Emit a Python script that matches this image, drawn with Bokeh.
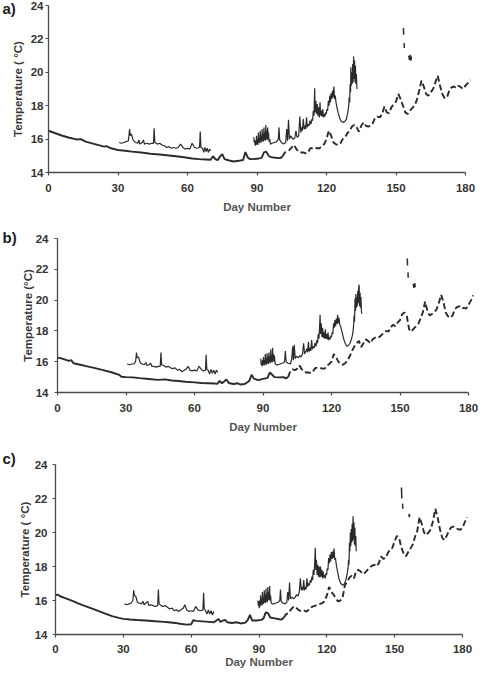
import numpy as np
from bokeh.plotting import figure
from bokeh.layouts import column
from bokeh.models import Range1d, FixedTicker, Label
from bokeh.embed import file_html
from bokeh.resources import INLINE

# ---------------------------------------------------------------------------
# Temperature records (day number, temperature in degC)
# lower_* : long record, continuous until day ~101 then intermittent
# upper_*1 / upper_*2 : second logger, two deployments
# gap_* : short fragments around day 153-157 (NaN = missing)
# ---------------------------------------------------------------------------

lower_a = [(0, 16.5), (3, 16.35), (6, 16.2), (9, 16.08), (12, 15.98), (14, 16.0), (16, 15.85),
           (20, 15.7), (24, 15.55), (25, 15.58), (27, 15.45), (30, 15.35), (33, 15.3), (36, 15.25),
           (40, 15.2), (44, 15.12), (48, 15.08), (52, 15.02), (56, 14.96), (60, 14.88), (62, 14.84),
           (65, 14.8), (68, 14.78), (70, 14.76), (71, 14.98), (72, 14.8), (73, 14.74), (74, 14.95),
           (75, 15.1), (76, 14.8), (78, 14.72), (80, 14.66), (82, 14.7), (84, 14.75), (85, 15.22),
           (86, 14.9), (87, 14.8), (90, 14.82), (92, 14.88), (93, 15.2), (94, 15.25), (95, 15.0),
           (96, 14.92), (98, 14.88), (100, 14.86), (101, 14.95)]
lower_a_late = [14.95, 15.2, 15.25, 15.35, 15.5, 15.65, 15.4, 15.25, 15.2, 15.2,
                15.15, 15.2, 15.45, 15.45, 15.5, 15.45, 15.45, 15.6, 15.7, 16.0,
                16.5, 16.2, 15.8, 15.7, 15.65, 15.75, 16.0, 16.1, 16.35, 16.5,
                16.75, 16.85, 16.7, 16.45, 16.8, 17.0, 16.8, 16.75, 16.8, 16.95,
                17.3, 17.35, 17.3, 17.5, 17.95, 17.6, 17.55, 17.9, 18.1, 18.25,
                18.7, 18.4, 18.0, 17.6, 17.5, 17.7, 17.85, 18.0, 18.35, 18.9,
                19.5, 19.15, 18.7, 18.6, 18.8, 19.0, 19.4, 19.8, 19.2, 18.7,
                18.45, 18.5, 18.9, 19.1, 19.15, 19.05, 19.2, 19.1, 19.0, 19.2,
                19.35, 19.55]
upper_a1 = [(30.5, 15.8), (31.5, 15.75), (32.5, 15.8), (33.5, 15.85), (34.5, 15.9), (35, 16.6),
            (35.3, 16.2), (35.8, 16.3), (36.5, 15.95), (37.5, 15.8), (38.5, 15.75), (39, 15.95),
            (39.4, 15.7), (40.5, 15.8), (41, 15.95), (41.4, 15.7), (42.5, 15.75), (43.5, 15.7),
            (44.5, 15.75), (45.3, 15.75), (45.6, 16.65), (45.9, 15.8), (47, 15.7), (48, 15.75),
            (49, 15.65), (50, 15.6), (51, 15.5), (52, 15.55), (53, 15.45), (54, 15.5), (55, 15.45),
            (56, 15.5), (57, 15.7), (58, 15.5), (59, 15.4), (60, 15.45), (61, 15.4), (62, 15.75),
            (63, 15.5), (64, 15.45), (65.2, 15.5), (65.5, 16.45), (65.8, 15.5), (66.5, 15.45),
            (67, 15.2), (67.5, 15.5), (68, 15.25), (68.5, 15.45), (69, 15.2), (69.5, 15.4), (70, 15.3)]
upper_a2 = [(88.6, 16.1), (88.8, 15.8), (89.0, 15.95), (89.2, 15.6), (89.4, 15.9), (89.6, 15.65),
            (89.8, 16.2), (90.0, 15.7), (90.2, 16.0), (90.4, 15.65), (90.6, 16.4), (90.8, 15.8),
            (91.0, 16.1), (91.2, 15.75), (91.4, 16.5), (91.6, 15.85), (91.8, 16.2), (92.0, 15.8),
            (92.2, 16.6), (92.4, 15.9), (92.6, 16.3), (92.8, 15.85), (93.0, 16.7), (93.2, 15.95),
            (93.4, 16.4), (93.6, 15.9), (93.8, 16.85), (94.0, 16.0), (94.2, 16.5), (94.4, 15.95),
            (94.6, 16.7), (94.8, 16.0), (95.0, 16.4), (95.2, 15.85), (95.5, 16.0), (95.8, 15.7),
            (96.5, 15.75), (97.5, 15.8), (98.5, 15.85), (99.2, 16.0), (99.5, 16.7), (99.8, 15.95),
            (100.5, 15.8), (101.5, 15.7), (102.4, 15.8), (102.8, 16.6), (103.2, 15.9), (103.6, 17.15),
            (104, 16.0), (104.6, 16.2), (105.5, 16.0), (106.3, 16.05), (106.8, 16.5), (107.3, 16.1),
            (108, 16.2), (108.5, 17.35), (108.9, 16.4), (109.3, 16.7), (109.6, 16.5), (110.0, 17.2),
            (110.3, 16.6), (110.7, 16.8), (111.0, 16.6), (111.4, 17.3), (111.7, 16.7), (112.1, 16.9),
            (112.5, 16.8), (112.9, 17.1), (113.3, 16.9), (113.7, 17.2), (114.0, 17.1), (114.3, 17.7),
            (114.6, 17.4), (114.9, 19.05), (115.1, 17.6), (115.4, 18.3), (115.7, 17.5), (116.0, 18.1),
            (116.3, 17.4), (116.6, 17.9), (116.9, 17.3), (117.2, 18.2), (117.5, 17.4), (117.8, 17.7),
            (118.1, 17.35), (118.4, 17.8), (118.7, 17.3), (119.0, 17.5), (119.3, 17.35), (119.6, 17.6),
            (119.9, 17.5), (120.2, 17.8), (120.5, 17.7), (120.8, 18.3), (121.1, 18.0), (121.4, 18.6),
            (121.7, 18.2), (122.0, 18.75), (122.3, 18.4), (122.6, 18.9), (122.9, 18.5), (123.2, 19.15),
            (123.5, 18.4), (123.8, 18.6), (124.1, 18.2), (124.5, 17.9), (125.0, 17.6), (125.5, 17.35),
            (126.0, 17.15), (126.5, 17.05), (127.2, 17.0), (127.9, 17.05), (128.6, 17.2), (129.2, 17.6),
            (129.6, 18.0), (129.8, 18.5), (130.0, 18.2), (130.2, 19.3), (130.4, 18.8), (130.5, 20.3),
            (130.7, 19.2), (130.9, 20.0), (131.1, 19.3), (131.3, 20.5), (131.5, 19.4), (131.7, 20.95),
            (131.9, 19.6), (132.1, 20.7), (132.3, 19.4), (132.5, 20.4), (132.7, 19.3), (132.9, 19.9),
            (133.1, 19.1), (133.2, 19.0)]
gap_a = [(153.2, 22.65), (153.3, 22.25), (np.nan, np.nan), (153.5, 21.75), (153.6, 21.45),
         (np.nan, np.nan), (155.5, 21.0), (155.8, 20.75), (156.1, 21.05), (156.4, 20.7), (156.7, 20.95)]

lower_b = [(0, 16.25), (1, 16.25), (3, 16.15), (5, 16.05), (6, 16.1), (7, 15.9), (10, 15.8),
           (13, 15.7), (16, 15.6), (20, 15.45), (24, 15.3), (27, 15.15), (28, 15.02), (30, 15.0),
           (33, 14.98), (36, 14.93), (40, 14.88), (44, 14.82), (47, 14.85), (50, 14.78), (53, 14.75),
           (56, 14.7), (60, 14.66), (63, 14.62), (66, 14.6), (69, 14.58), (70, 14.56), (71, 14.75),
           (72, 14.6), (73, 14.72), (74, 14.85), (75, 14.62), (77, 14.55), (79, 14.6), (80, 14.52),
           (82, 14.55), (84, 14.75), (85, 15.15), (86, 14.9), (88, 14.8), (90, 14.88), (92, 14.95),
           (93, 15.3), (94, 15.15), (95, 15.0), (97, 14.98), (99, 15.0), (100, 14.92), (101, 15.0)]
lower_b_late = [15.0, 15.4, 15.5, 15.45, 15.55, 15.75, 15.5, 15.35, 15.3, 15.3,
                15.25, 15.4, 15.6, 15.6, 15.6, 15.55, 15.55, 15.75, 15.85, 16.0,
                16.5, 16.3, 16.0, 15.85, 15.8, 15.9, 16.1, 16.35, 16.7, 17.0,
                17.2, 17.35, 16.95, 17.2, 17.45, 17.35, 17.2, 17.45, 17.55, 17.65,
                17.6, 17.75, 17.85, 18.0, 17.95, 18.25, 18.4, 18.3, 18.55, 18.7,
                19.1, 19.2, 18.95, 18.1, 17.95, 18.15, 18.3, 18.45, 18.8, 19.2,
                19.9, 19.3, 19.0, 19.1, 19.2, 19.4, 19.8, 20.35, 19.9, 19.2,
                18.95, 18.85, 19.0, 19.4, 19.55, 19.6, 19.45, 19.5, 19.45, 19.7,
                19.95, 20.3]
upper_b1 = [(30.5, 15.85), (31.5, 15.8), (32.5, 15.85), (33.5, 15.85), (34.2, 16.0), (34.6, 16.6),
            (34.9, 16.25), (35.5, 16.3), (36.2, 15.95), (37, 15.85), (38, 15.8), (38.7, 15.95),
            (39.2, 15.75), (40, 15.8), (40.8, 15.9), (41.3, 15.7), (42.2, 15.7), (43.2, 15.65),
            (44.2, 15.7), (45, 15.7), (45.3, 16.6), (45.6, 15.8), (46.5, 15.75), (47.5, 15.65),
            (48.5, 15.7), (49.5, 15.6), (50.5, 15.55), (51.5, 15.6), (52.5, 15.45), (53.5, 15.5),
            (54.5, 15.35), (55.5, 15.45), (56.5, 15.55), (57.2, 15.7), (58, 15.45), (59, 15.4),
            (60, 15.45), (61, 15.4), (62, 15.7), (63, 15.5), (64, 15.4), (64.8, 15.45), (65.1, 16.45),
            (65.4, 15.5), (66, 15.45), (66.6, 15.2), (67.2, 15.5), (67.8, 15.25), (68.4, 15.45),
            (69, 15.2), (69.6, 15.45), (70.2, 15.3)]
upper_b2 = [(89, 16.2), (89.2, 15.8), (89.4, 16.0), (89.6, 15.7), (89.8, 16.1), (90.0, 15.75),
            (90.2, 16.3), (90.4, 15.8), (90.6, 16.1), (90.8, 15.75), (91.0, 16.5), (91.2, 15.85),
            (91.4, 16.2), (91.6, 15.8), (91.8, 16.55), (92.0, 15.9), (92.2, 16.3), (92.4, 15.85),
            (92.6, 16.6), (92.8, 15.95), (93.0, 16.35), (93.2, 15.9), (93.4, 16.8), (93.6, 16.0),
            (93.8, 16.4), (94.0, 15.95), (94.2, 16.9), (94.4, 16.05), (94.6, 16.5), (94.8, 16.0),
            (95.0, 16.4), (95.3, 15.9), (95.7, 15.8), (96.5, 15.8), (97.5, 15.85), (98.5, 15.9),
            (99.2, 15.95), (99.5, 16.1), (99.8, 16.7), (100.1, 16.0), (101, 15.9), (102, 15.85),
            (102.6, 16.2), (103, 17.0), (103.3, 16.1), (103.7, 17.1), (104.1, 16.2), (104.6, 16.35),
            (105.4, 16.25), (106.1, 16.4), (106.6, 16.3), (107.3, 16.5), (107.8, 17.2), (108.2, 16.5),
            (108.8, 16.7), (109.2, 16.85), (109.5, 16.6), (109.9, 17.3), (110.2, 16.65), (110.6, 16.9),
            (110.9, 16.7), (111.3, 17.4), (111.6, 16.8), (112.0, 17.0), (112.4, 16.9), (112.8, 17.2),
            (113.2, 17.0), (113.6, 17.4), (113.9, 17.2), (114.2, 17.8), (114.5, 17.5), (114.8, 18.3),
            (115.0, 19.05), (115.2, 17.8), (115.5, 18.5), (115.8, 17.6), (116.1, 18.2), (116.4, 17.55),
            (116.7, 17.9), (117.0, 17.5), (117.3, 18.1), (117.6, 17.5), (117.9, 17.8), (118.2, 17.45),
            (118.5, 17.9), (118.8, 17.4), (119.1, 17.6), (119.4, 17.45), (119.7, 17.7), (120.0, 17.6),
            (120.3, 17.9), (120.6, 17.8), (120.9, 18.5), (121.2, 18.2), (121.5, 18.7), (121.8, 18.3),
            (122.1, 18.8), (122.4, 18.45), (122.7, 19.05), (123.0, 18.5), (123.3, 18.85), (123.6, 18.4),
            (124.0, 18.3), (124.5, 18.0), (125.0, 17.7), (125.5, 17.4), (126.0, 17.2), (126.7, 17.0),
            (127.4, 17.05), (128.1, 17.2), (128.8, 17.5), (129.3, 17.8), (129.7, 18.4), (129.9, 19.0),
            (130.1, 18.6), (130.3, 20.1), (130.5, 19.3), (130.7, 20.4), (130.9, 19.5), (131.1, 20.2),
            (131.3, 19.6), (131.5, 20.6), (131.7, 19.8), (131.9, 20.8), (132.1, 21.0), (132.3, 19.6),
            (132.5, 20.5), (132.7, 19.5), (132.9, 20.2), (133.1, 19.3), (133.3, 19.1)]
gap_b = [(153.2, 22.7), (153.3, 22.25), (np.nan, np.nan), (153.5, 21.8), (153.6, 21.45),
         (np.nan, np.nan), (155.8, 21.05), (156.1, 20.8), (156.4, 21.1), (156.7, 20.85)]

lower_c = [(0, 16.3), (1, 16.35), (2, 16.25), (4, 16.15), (6, 16.05), (8, 15.95), (10, 15.83),
           (12, 15.73), (15, 15.58), (18, 15.43), (20, 15.33), (22, 15.23), (25, 15.08), (28, 14.98),
           (30, 14.92), (33, 14.88), (36, 14.85), (40, 14.82), (44, 14.78), (48, 14.74), (50, 14.72),
           (53, 14.68), (55, 14.63), (58, 14.58), (60, 14.6), (61, 14.85), (62, 14.8), (65, 14.77),
           (68, 14.74), (70, 14.72), (71, 14.8), (72, 14.92), (73, 14.74), (74, 14.82), (75, 14.86),
           (76, 14.72), (78, 14.68), (80, 14.72), (82, 14.65), (84, 14.7), (85, 14.85), (86, 15.15),
           (87, 14.82), (89, 14.82), (91, 14.86), (92, 14.95), (93, 15.3), (94, 15.25), (95, 15.0),
           (97, 14.95), (99, 14.9), (100, 14.88), (101, 15.0)]
lower_c_late = [15.0, 15.2, 15.25, 15.45, 15.6, 15.65, 15.5, 15.4, 15.35, 15.4,
                15.35, 15.45, 15.6, 15.65, 15.7, 15.75, 15.8, 15.85, 15.95, 16.3,
                16.8, 16.5, 16.35, 16.1, 15.95, 16.0, 16.2, 16.9, 17.1, 17.35,
                17.45, 17.3, 17.75, 17.8, 17.7, 17.55, 17.65, 17.8, 17.95, 18.05,
                18.1, 18.0, 18.2, 18.6, 18.45, 18.5, 18.8, 19.0, 19.1, 19.5,
                19.8, 19.65, 19.1, 18.75, 18.6, 18.85, 19.05, 19.3, 19.75, 20.1,
                20.9, 20.5, 20.0, 19.85, 20.0, 20.2, 20.7, 21.4, 20.9, 20.2,
                19.7, 19.55, 19.8, 20.1, 20.3, 20.35, 20.25, 20.2, 20.15, 20.3,
                20.6, 20.9]
upper_c1 = [(30.5, 15.8), (31.5, 15.75), (32.5, 15.8), (33.5, 15.85), (34.2, 16.0), (34.6, 16.6),
            (34.9, 16.3), (35.5, 16.25), (36.2, 15.9), (37, 15.85), (38, 15.8), (38.7, 15.95),
            (39.2, 15.75), (40, 15.85), (40.8, 15.95), (41.3, 15.7), (42.2, 15.75), (43.2, 15.7),
            (44.2, 15.65), (45.2, 15.7), (45.5, 16.65), (45.8, 15.8), (46.7, 15.7), (47.5, 15.65),
            (48.5, 15.7), (49.5, 15.6), (50.5, 15.5), (51.5, 15.55), (52.5, 15.4), (53.5, 15.45),
            (54.5, 15.35), (55.5, 15.45), (56.5, 15.55), (57.2, 15.75), (58, 15.45), (59, 15.35),
            (60, 15.4), (61, 15.35), (62, 15.65), (63, 15.45), (64, 15.4), (65.2, 15.45), (65.5, 16.45),
            (65.8, 15.5), (66.4, 15.4), (67, 15.2), (67.6, 15.45), (68.2, 15.2), (68.8, 15.4),
            (69.4, 15.15), (70, 15.35)]
upper_c2 = [(89.5, 16.0), (89.7, 15.7), (89.9, 15.95), (90.1, 15.55), (90.3, 16.0), (90.5, 15.65),
            (90.7, 16.3), (90.9, 15.75), (91.1, 16.1), (91.3, 15.7), (91.5, 16.5), (91.7, 15.8),
            (91.9, 16.2), (92.1, 15.8), (92.3, 16.6), (92.5, 15.9), (92.7, 16.3), (92.9, 15.85),
            (93.1, 16.7), (93.3, 15.95), (93.5, 16.4), (93.7, 15.9), (93.9, 16.8), (94.1, 16.05),
            (94.3, 16.5), (94.5, 16.0), (94.7, 16.85), (94.9, 16.0), (95.1, 16.3), (95.4, 15.85),
            (95.8, 15.8), (96.5, 15.8), (97.5, 15.85), (98.5, 15.9), (99.2, 16.0), (99.5, 16.65),
            (99.8, 15.95), (100.6, 15.85), (101.5, 15.8), (102.3, 15.9), (102.7, 16.5), (103.1, 16.0),
            (103.5, 17.05), (103.9, 16.1), (104.5, 16.2), (105.3, 16.1), (106, 16.2), (106.6, 16.35),
            (107.2, 16.25), (107.8, 16.5), (108.3, 17.3), (108.7, 16.6), (109.1, 16.8), (109.4, 16.6),
            (109.8, 17.2), (110.1, 16.6), (110.5, 16.8), (110.8, 16.65), (111.2, 17.3), (111.5, 16.8),
            (111.9, 17.0), (112.3, 16.9), (112.7, 17.2), (113.0, 17.05), (113.4, 17.4), (113.7, 17.2),
            (114.0, 17.8), (114.3, 17.5), (114.6, 18.1), (114.9, 19.1), (115.1, 17.8), (115.4, 18.4),
            (115.7, 17.5), (116.0, 18.1), (116.3, 17.4), (116.6, 18.0), (116.9, 17.35), (117.2, 18.0),
            (117.5, 17.4), (117.8, 17.8), (118.1, 17.3), (118.4, 17.7), (118.7, 17.35), (119.0, 17.5),
            (119.3, 17.3), (119.6, 17.6), (119.9, 17.5), (120.2, 17.9), (120.5, 17.8), (120.8, 18.5),
            (121.1, 18.2), (121.4, 18.7), (121.7, 18.3), (122.0, 18.85), (122.3, 18.45), (122.6, 18.9),
            (122.9, 18.5), (123.2, 19.05), (123.5, 18.4), (123.8, 18.5), (124.3, 18.0), (124.9, 17.6),
            (125.5, 17.2), (126.2, 17.0), (126.9, 16.9), (127.6, 16.95), (128.3, 17.15), (128.9, 17.5),
            (129.4, 17.9), (129.6, 18.4), (129.8, 18.1), (130.0, 19.4), (130.2, 18.9), (130.4, 20.0),
            (130.6, 19.2), (130.8, 20.2), (131.0, 19.4), (131.2, 20.5), (131.4, 19.5), (131.6, 20.95),
            (131.8, 19.6), (132.0, 20.6), (132.2, 19.3), (132.4, 20.3), (132.6, 19.2), (132.8, 19.8),
            (133, 18.9)]
gap_c = [(153.0, 22.65), (153.15, 22.0), (np.nan, np.nan), (153.5, 21.7), (153.6, 21.4),
         (np.nan, np.nan), (156.3, 21.1), (156.5, 20.9), (156.7, 21.05)]

late_days = list(range(101, 183))
x_ticks = [0, 30, 60, 90, 120, 150, 180]
y_ticks = [14, 16, 18, 20, 22, 24]

FONT = "Liberation Sans"
INK = "#2b2b2b"
W = 485


def xy(pairs):
    arr = np.array(pairs, dtype=float)
    return arr[:, 0], arr[:, 1]


def panel(tag, y_title, height, anchors, tag_y, xstand, xlabstand, ystand, ylabstand,
          lower, lower_late, up1, up2, gap):
    # anchors: pixel column of day 0 / day 180, pixel row of 24 / 14 degC
    x0, x180, y24, y14 = anchors
    per_day = (x180 - x0) / 180.0
    per_deg = (y14 - y24) / 10.0
    xr = Range1d(-x0 / per_day, (W - x0) / per_day)
    yr = Range1d(14 - (height - y14) / per_deg, 24 + y24 / per_deg)

    p = figure(width=W, height=height, output_backend="svg", toolbar_location=None,
               x_range=xr, y_range=yr, min_border=0, min_border_left=0,
               min_border_right=0, min_border_top=0, min_border_bottom=0)
    p.outline_line_color = None
    p.grid.visible = False

    # axes pinned at day 0 / 14 degC so they take no margin of their own
    for ax, ticks, bounds, loc in ((p.xaxis[0], x_ticks, (0, 180), 14),
                                   (p.yaxis[0], y_ticks, (14, 24), 0)):
        ax.ticker = FixedTicker(ticks=ticks)
        ax.bounds = bounds
        ax.fixed_location = loc
        ax.minor_tick_line_color = None
        ax.major_tick_in = 0
        ax.major_tick_out = 3
        ax.axis_line_color = "#4a4a4a"
        ax.axis_line_width = 1.3
        ax.major_tick_line_color = "#4a4a4a"
        ax.major_tick_line_width = 1.2
        ax.major_label_text_font = FONT
        ax.major_label_text_font_style = "bold"
        ax.major_label_text_font_size = "11.5px"
        ax.major_label_text_color = "#333333"
        ax.axis_label_text_font = FONT
        ax.axis_label_text_font_style = "bold"
        ax.axis_label_text_font_size = "11.5px"

    p.xaxis.axis_label = "Day Number"
    p.xaxis.axis_label_text_color = "#555555"
    p.xaxis.major_label_standoff = xstand
    p.xaxis.axis_label_standoff = xlabstand
    p.yaxis.axis_label = y_title
    p.yaxis.axis_label_text_color = "#383838"
    p.yaxis.major_label_standoff = ystand
    p.yaxis.axis_label_standoff = ylabstand

    # long record: solid while continuous, dashed once it becomes intermittent
    d, t = xy(lower)
    p.line(d, t, line_color=INK, line_width=1.9)
    p.line(late_days, lower_late, line_color=INK, line_width=1.9, line_dash="6 3")

    for seg in (up1, up2):
        d, t = xy(seg)
        p.line(d, t, line_color=INK, line_width=1.2)

    d, t = xy(gap)
    p.line(d, t, line_color=INK, line_width=1.5)

    # panel tag in the top-left corner
    p.add_layout(Label(x=xr.start + 2 / per_day, y=yr.end - tag_y / per_deg, text=tag,
                       text_font=FONT, text_font_style="bold", text_font_size="15px",
                       text_color="#1e1e1e", text_baseline="middle", text_align="left"))
    return p


fa = panel("a)", "Temperature ( \u00b0C)", 218, (48, 465, 5, 172), 8, 8, 6, 2, 4,
           lower_a, lower_a_late, upper_a1, upper_a2, gap_a)
fb = panel("b)", "Temperature (\u00b0C)", 220, (57, 468, 20, 174), 19, 8, 6, 6, -1,
           lower_b, lower_b_late, upper_b1, upper_b2, gap_b)
fc = panel("c)", "Temperature ( \u00b0C)", 235, (55, 462, 26, 196), 20, 7, 0, 5, 1,
           lower_c, lower_c_late, upper_c1, upper_c2, gap_c)

page = column(fa, fb, fc, spacing=0)
open("out.html", "w").write(file_html(page, INLINE))
